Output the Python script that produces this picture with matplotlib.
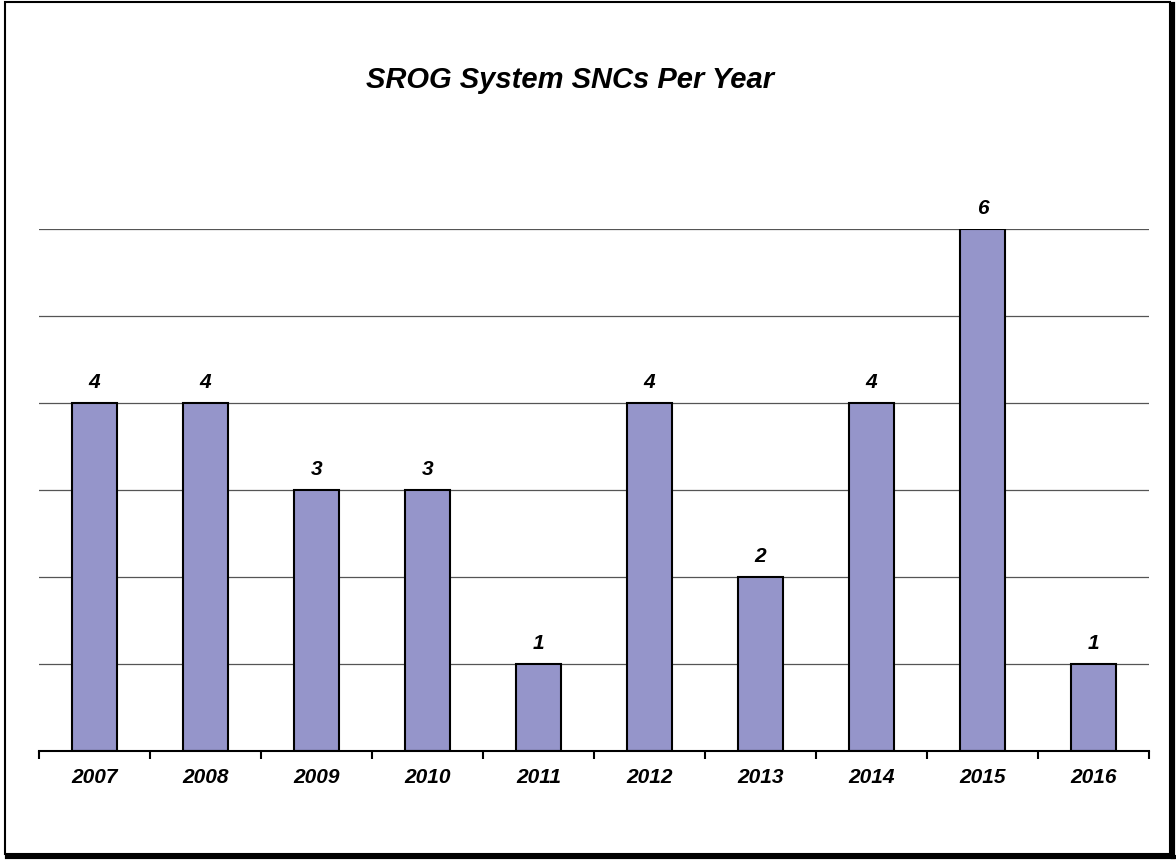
import matplotlib
matplotlib.use("Agg")
import matplotlib.pyplot as plt
from matplotlib.patches import Rectangle
from matplotlib.lines import Line2D

years = ["2007", "2008", "2009", "2010", "2011", "2012", "2013", "2014", "2015", "2016"]
sncs = [4, 4, 3, 3, 1, 4, 2, 4, 6, 1]

W, H = 1176, 860
fig = plt.figure(figsize=(W / 100, H / 100), dpi=100)
fig.patch.set_facecolor("white")

ax = fig.add_axes([39 / W, 1 - 751 / H, (1149 - 39) / W, (751 - 229) / H])
x = list(range(len(years)))
ax.bar(x, sncs, width=0.4, color="#9595CA", edgecolor="black", linewidth=1.5, zorder=3)

ax.set_xlim(-0.5, len(years) - 0.5)
ax.set_ylim(0, 6)
ax.set_yticks([1, 2, 3, 4, 5, 6])
ax.yaxis.grid(True, color="#555555", linewidth=0.9, zorder=0)
ax.tick_params(axis="y", left=False, labelleft=False)

for s in ("left", "right", "top"):
    ax.spines[s].set_visible(False)
ax.spines["bottom"].set_linewidth(1.5)
ax.spines["bottom"].set_zorder(4)

label_font = dict(family="Liberation Sans", weight="bold", style="italic", size=15)

# category labels centred in each slot, ticks on the slot boundaries
ax.set_xticks([i - 0.5 for i in range(len(years) + 1)], minor=False)
ax.set_xticklabels([""] * (len(years) + 1))
ax.tick_params(axis="x", direction="out", length=6, width=1.5, color="black")
ax.set_xticks(x, minor=True)
ax.set_xticklabels(years, minor=True, fontdict=label_font)
ax.tick_params(axis="x", which="minor", length=0, pad=12)

for xi, v in zip(x, sncs):
    ax.annotate(str(v), (xi, v), xytext=(0, 8), textcoords="offset points",
                ha="center", va="bottom", annotation_clip=False, **label_font)

fig.text(570 / W, 1 - 80 / H, "SROG System SNCs Per Year", ha="center", va="center",
         family="Liberation Sans", weight="bold", style="italic", size=21)

# chart frame with a drop shadow on the right and bottom
fig.add_artist(Rectangle((5 / W, 1 - 854 / H), (1170 - 5) / W, (854 - 2) / H,
                         transform=fig.transFigure, fill=False, edgecolor="black",
                         linewidth=1.5))
fig.add_artist(Line2D([7 / W, 1174 / W], [1 - 857 / H, 1 - 857 / H],
                      transform=fig.transFigure, color="black", linewidth=3))
fig.add_artist(Line2D([1173 / W, 1173 / W], [1 - 4 / H, 1 - 857 / H],
                      transform=fig.transFigure, color="black", linewidth=3))

fig.savefig("out.png", dpi=100)
